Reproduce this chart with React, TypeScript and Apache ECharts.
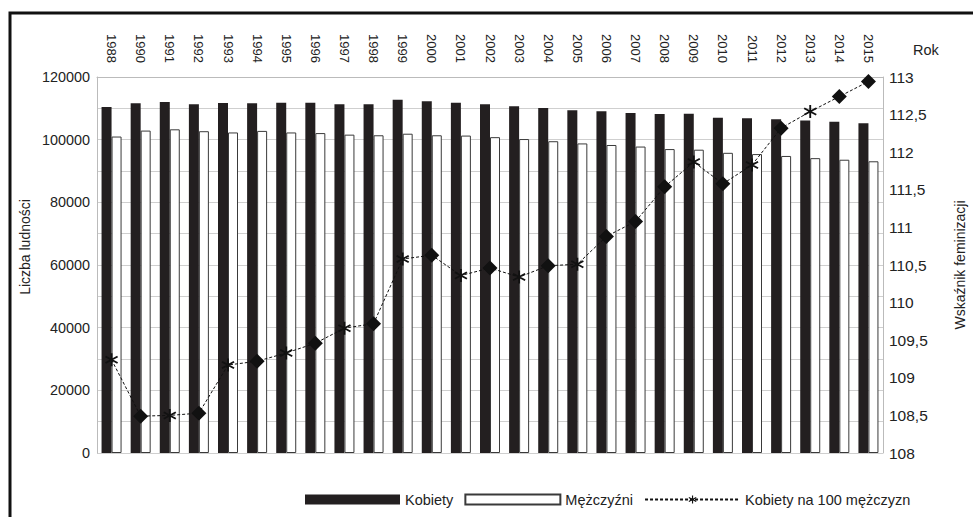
import React, { useEffect, useRef } from "react";
import * as echarts from "echarts";

const years = ["1988", "1990", "1991", "1992", "1993", "1994", "1995", "1996", "1997", "1998", "1999", "2000", "2001", "2002", "2003", "2004", "2005", "2006", "2007", "2008", "2009", "2010", "2011", "2012", "2013", "2014", "2015"];
const kobiety = [110400, 111600, 112000, 111300, 111700, 111600, 111800, 111800, 111300, 111300, 112700, 112300, 111800, 111300, 110700, 110100, 109400, 109100, 108500, 108200, 108300, 107000, 106800, 106500, 106100, 105700, 105200];
const mezczyzni = [101000, 102900, 103300, 102700, 102300, 102800, 102300, 102100, 101600, 101400, 101900, 101400, 101300, 100800, 100200, 99500, 98800, 98300, 97800, 97000, 96800, 95800, 95400, 94800, 94100, 93600, 93100];
const wskaznik = [109.24, 108.49, 108.5, 108.53, 109.17, 109.22, 109.33, 109.46, 109.66, 109.72, 110.58, 110.63, 110.36, 110.46, 110.34, 110.49, 110.51, 110.88, 111.08, 111.54, 111.87, 111.58, 111.83, 112.32, 112.54, 112.74, 112.94];
const markerKinds = ["a", "d", "a", "d", "a", "d", "a", "d", "a", "d", "a", "d", "a", "d", "a", "d", "a", "d", "d", "d", "a", "d", "a", "d", "a", "d", "d"];

const asteriskPath =
  "path://M5.2,0L6.8,0L6.8,12L5.2,12Z M1.204,2.307L11.596,8.307L10.796,9.693L0.404,3.693Z M0.404,8.307L10.796,2.307L11.596,3.693L1.204,9.693Z";

const FONT = "'Liberation Sans', Arial, sans-serif";

export default function App() {
  const ref = useRef<HTMLDivElement>(null);
  useEffect(() => {
    document.body.style.margin = "0";
    const chart = echarts.init(ref.current!, null, { renderer: "svg" });
    chart.setOption({
      animation: false,
      textStyle: { fontFamily: FONT, color: "#222" },
      grid: { left: 97, right: 90, top: 77, bottom: 64 },
      legend: {
        left: 300,
        top: 487,
        itemWidth: 95,
        itemHeight: 10,
        itemGap: 11,
        textStyle: { fontSize: 14.5, color: "#222", fontFamily: FONT },
        data: [
          { name: "Kobiety", icon: "rect" },
          { name: "Mężczyźni", icon: "rect" },
          { name: "Kobiety na 100 mężczyzn" },
        ],
      },
      xAxis: {
        type: "category",
        position: "top",
        data: years,
        axisLine: { show: true, onZero: false, lineStyle: { color: "#bbb" } },
        axisTick: { show: false },
        axisLabel: { rotate: 90, fontSize: 13, margin: 14, color: "#222", fontFamily: FONT },
        splitLine: { show: false },
      },
      yAxis: [
        {
          type: "value",
          min: 0,
          max: 120000,
          interval: 10000,
          axisLine: { show: true, lineStyle: { color: "#bbb" } },
          axisTick: { show: false },
          axisLabel: {
            fontSize: 14.4,
            color: "#222",
            fontFamily: FONT,
            margin: 7,
            formatter: (v: number) => (v % 20000 === 0 ? String(v) : ""),
          },
          splitLine: { show: true, lineStyle: { color: "#cfcfcf" } },
        },
        {
          type: "value",
          position: "right",
          min: 108,
          max: 113,
          interval: 0.5,
          axisLine: { show: true, lineStyle: { color: "#bbb" } },
          axisTick: { show: false },
          axisLabel: {
            fontSize: 15.5,
            color: "#222",
            fontFamily: FONT,
            margin: 6,
            formatter: (v: number) => String(v).replace(".", ","),
          },
          splitLine: { show: false },
        },
      ],
      series: [
        {
          name: "Kobiety",
          type: "bar",
          data: kobiety,
          barWidth: 10,
          barGap: "0%",
          itemStyle: { color: "#231f20" },
        },
        {
          name: "Mężczyźni",
          type: "bar",
          data: mezczyzni,
          barWidth: 10,
          itemStyle: { color: "#ffffff", borderColor: "#3a3a3a", borderWidth: 1 },
        },
        {
          name: "Kobiety na 100 mężczyzn",
          type: "line",
          yAxisIndex: 1,
          symbol: asteriskPath,
          symbolSize: 13,
          data: wskaznik.map((v, i) => ({
            value: v,
            symbol: markerKinds[i] === "d" ? "diamond" : asteriskPath,
            symbolSize: markerKinds[i] === "d" ? 15 : 13,
          })),
          itemStyle: { color: "#111" },
          lineStyle: { color: "#111", width: 1, type: [3, 2] },
          z: 3,
        },
      ],
      graphic: [
        {
          type: "rect",
          shape: { x: 10, y: 13, width: 980, height: 530 },
          style: { fill: "none", stroke: "#111", lineWidth: 3 },
          silent: true,
        },
        {
          type: "text",
          x: 913,
          y: 42,
          style: { text: "Rok", fontSize: 14.5, fill: "#222", fontFamily: FONT },
        },
        {
          type: "text",
          x: 25,
          y: 247,
          rotation: Math.PI / 2,
          style: { text: "Liczba ludności", fontSize: 14, fill: "#222", fontFamily: FONT, align: "center", verticalAlign: "middle" },
        },
        {
          type: "text",
          x: 960,
          y: 265,
          rotation: Math.PI / 2,
          style: { text: "Wskaźnik feminizacji", fontSize: 14, fill: "#222", fontFamily: FONT, align: "center", verticalAlign: "middle" },
        },
      ],
    });
    return () => chart.dispose();
  }, []);
  return <div ref={ref} style={{ width: 973, height: 517 }} />;
}
